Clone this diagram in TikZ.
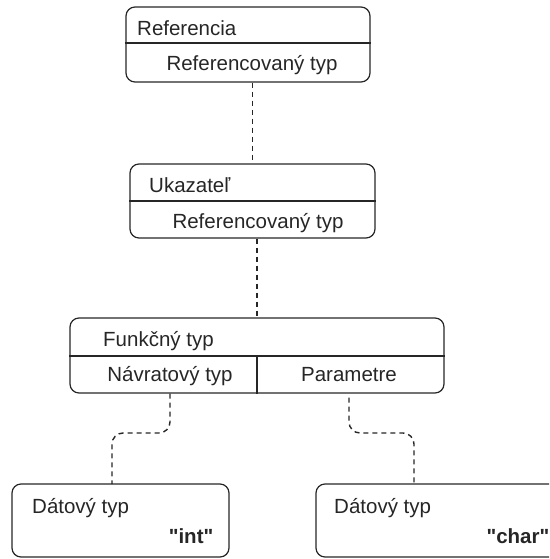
\documentclass[tikz,border=0pt]{standalone}
\usepackage{fontspec}
\setmainfont{Liberation Sans}[Ligatures=TeXOff]
\usepackage{tikz}
\usetikzlibrary{calc,positioning}

\begin{document}
\begin{tikzpicture}[x=1pt, y=-1pt,
        typebox/.style={draw=black!85, line width=1.2pt, rounded corners=9pt, inner sep=0pt},
        divider/.style={draw=black!85, line width=1.2pt},
        link/.style={draw=black!85, line width=1.4pt, dash pattern=on 5pt off 4pt, rounded corners=11pt},
        lbl/.style={inner sep=0pt, font=\fontsize{20.5pt}{24pt}\selectfont, text=black!85}]
        \useasboundingbox (0,0) rectangle (549,559);
        \clip (0,0) rectangle (549,559);

        % ----------------------------------------------------
        % REFERENCIA
        % ----------------------------------------------------
        \node[typebox, minimum width=244pt, minimum height=75pt] (ref) at (248,44.5) {};
        \draw[divider] (ref.west |- 0,43) -- (ref.east |- 0,43);
        \node[lbl, anchor=base west] (refname) at (137,35.5) {Referencia};
        \node[lbl, anchor=base] (reftype) at (252,71) {Referencovaný typ};

        % ----------------------------------------------------
        % UKAZATEL
        % ----------------------------------------------------
        \node[typebox, minimum width=245pt, minimum height=74pt] (ukaz) at (252.5,201) {};
        \draw[divider] (ukaz.west |- 0,201) -- (ukaz.east |- 0,201);
        \node[lbl, anchor=base west] (ukazname) at (149,192.5) {Ukazateľ};
        \node[lbl, anchor=base] (ukaztype) at (258,228) {Referencovaný typ};

        % ----------------------------------------------------
        % FUNKCNY TYP
        % ----------------------------------------------------
        \node[typebox, minimum width=374pt, minimum height=75pt] (fun) at (257,355.5) {};
        \draw[divider] (fun.west |- 0,356) -- (fun.east |- 0,356);
        \draw[divider] (fun.center |- 0,356) -- (fun.south);
        \node[lbl, anchor=base west] (funname) at (103,346.5) {Funkčný typ};
        \node[lbl, anchor=base] (navr) at (170,381) {Návratový typ};
        \node[lbl, anchor=base] (param) at (349,381) {Parametre};

        % ----------------------------------------------------
        % DATOVE TYPY
        % ----------------------------------------------------
        \node[typebox, minimum width=217pt, minimum height=73pt] (dint) at (120.5,520.5) {};
        \node[lbl, anchor=base west] (dintname) at (32,513) {Dátový typ};
        \node[lbl, anchor=base east, font=\fontsize{20.5pt}{24pt}\selectfont\bfseries] (dintval) at (213.5,543) {"int"};

        \node[typebox, minimum width=260pt, minimum height=73pt] (dchar) at (446,520.5) {};
        \node[lbl, anchor=base west] (dcharname) at (334,513) {Dátový typ};
        \node[lbl, anchor=base east, font=\fontsize{20.5pt}{24pt}\selectfont\bfseries] (dcharval) at (549.5,543) {"char"};

        % ----------------------------------------------------
        % CONNECTORS
        % ----------------------------------------------------
        \coordinate (intin) at (112,484);
        \coordinate (charin) at (414,484);
        \draw[link] (ukaz.north |- ref.south) -- (ukaz.north);
        \draw[link] (fun.north |- ukaz.south) -- (fun.north);
        \draw[link] (navr |- fun.south) -- (navr |- 0,433) -- (intin |- 0,433) -- (intin);
        \draw[link] ($(param |- fun.south)+(0,4)$) -- (param |- 0,433) -- (charin |- 0,433) -- (charin);
    \end{tikzpicture}
\end{document}
